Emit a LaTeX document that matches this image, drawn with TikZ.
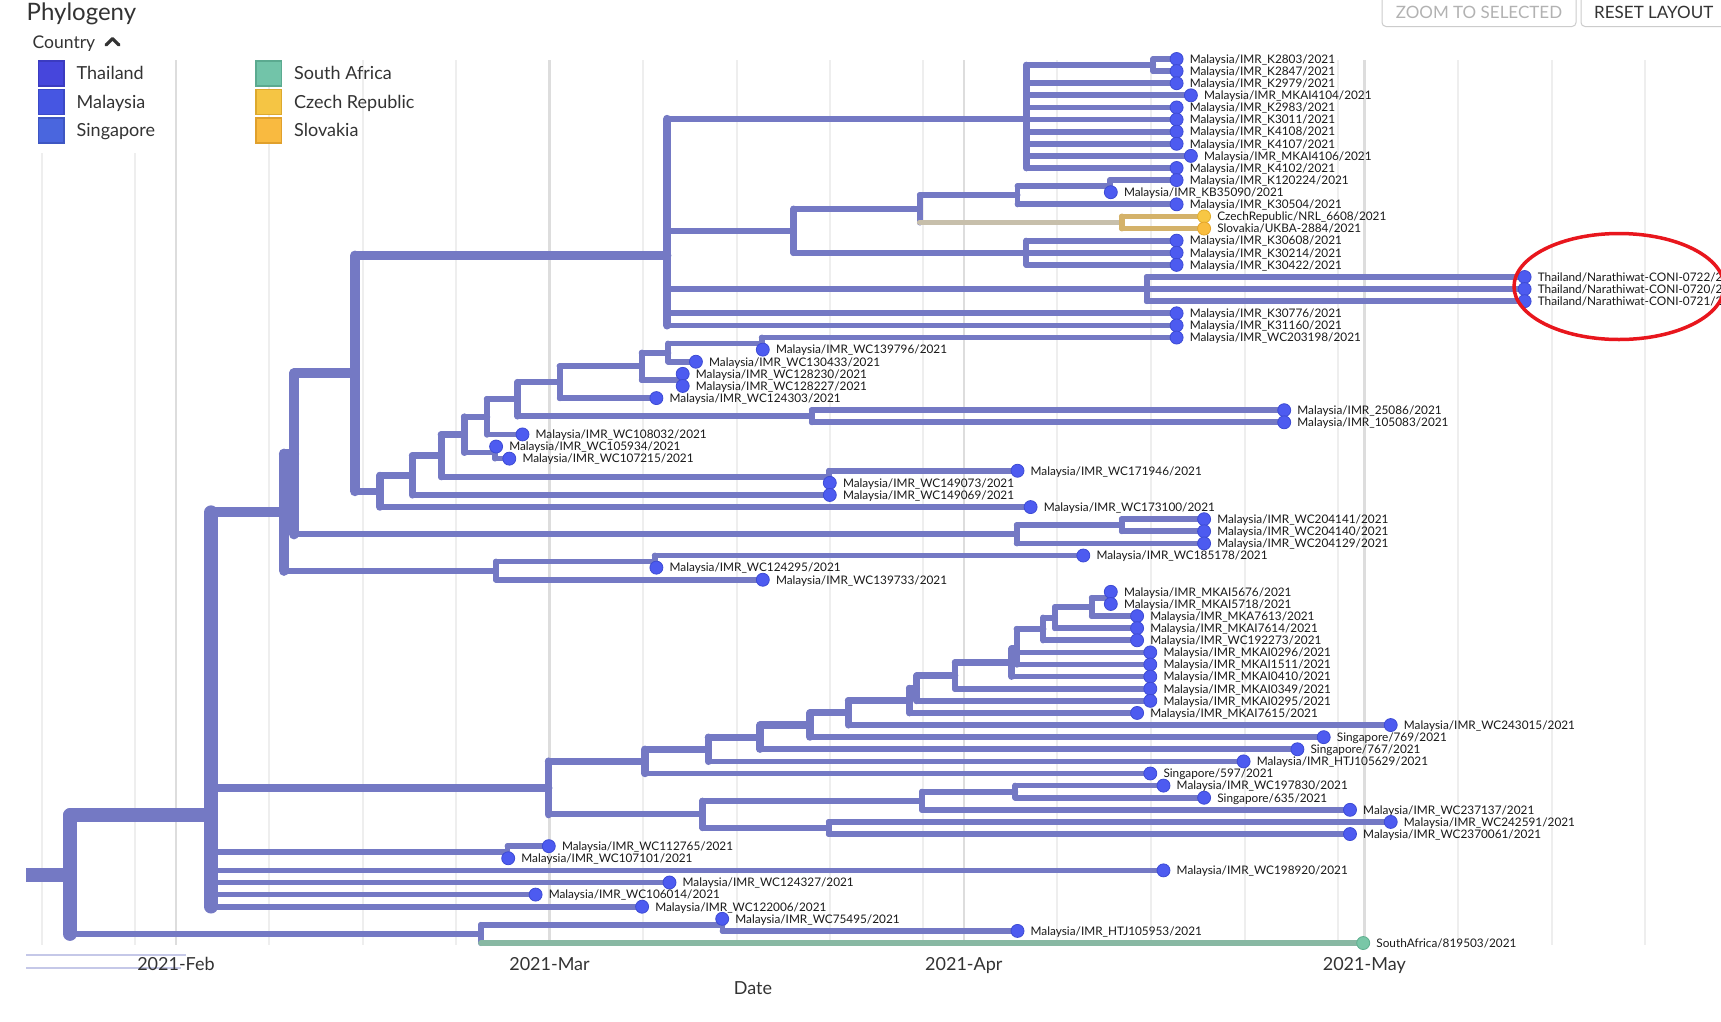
\documentclass[tikz,border=0pt]{standalone}
\usepackage{fontspec}
\setmainfont{Lato}

\definecolor{branch}{HTML}{7479C4}
\definecolor{tipfill}{HTML}{4D5BF0}
\definecolor{tipline}{HTML}{3D4BD4}
\definecolor{czfill}{HTML}{F7C744}
\definecolor{czline}{HTML}{E2AE2B}
\definecolor{skfill}{HTML}{F9BD3F}
\definecolor{skline}{HTML}{E4A52A}
\definecolor{safill}{HTML}{79C7A7}
\definecolor{saline}{HTML}{5DAE8E}
\definecolor{czbranch}{HTML}{D4B26A}
\definecolor{mixbranch}{HTML}{C7BFAB}
\definecolor{sabranch}{HTML}{88B8A3}
\definecolor{gridminor}{HTML}{EEEEEE}
\definecolor{gridmajor}{HTML}{DDDDDD}
\definecolor{axisline}{HTML}{C5C8E8}
\definecolor{darktext}{HTML}{333333}
\definecolor{circled}{HTML}{E8161D}

\tikzset{
  br/.style={draw=branch, line width={5.6+0.113*#1}, line cap=round},
  br/.default=1,
  tipdot/.style={circle, inner sep=0, minimum size=13, line width=0.8},
  tipb/.style={tipdot, fill=tipfill, draw=tipline},
  tipy/.style={tipdot, fill=czfill, draw=czline},
  tipo/.style={tipdot, fill=skfill, draw=skline},
  tipg/.style={tipdot, fill=safill, draw=saline},
  lab/.style={anchor=base west, inner sep=0, xshift=13, yshift=-4.3, font=\fontsize{11.8}{13}\selectfont, text=black!90},
  axlab/.style={anchor=base, inner sep=0, font=\fontsize{18}{20}\selectfont, text=darktext},
}

% parent #2 to child #3, #1 tips below
\newcommand{\hbr}[3][1]{\draw[br=#1] (#2 |- #3) -- (#3);}
% vertical bar of node #2 from child #3 to child #4
\newcommand{\vbr}[4][1]{\draw[br=#1] (#2 |- #3) -- (#2 |- #4);}

\newcommand{\tiplist}{%
0/1176.6/b/{Malaysia/IMR\_K2803/2021},
1/1176.6/b/{Malaysia/IMR\_K2847/2021},
2/1176.6/b/{Malaysia/IMR\_K2979/2021},
3/1190.9/b/{Malaysia/IMR\_MKAI4104/2021},
4/1176.6/b/{Malaysia/IMR\_K2983/2021},
5/1176.6/b/{Malaysia/IMR\_K3011/2021},
6/1176.6/b/{Malaysia/IMR\_K4108/2021},
7/1176.6/b/{Malaysia/IMR\_K4107/2021},
8/1190.9/b/{Malaysia/IMR\_MKAI4106/2021},
9/1176.6/b/{Malaysia/IMR\_K4102/2021},
10/1176.6/b/{Malaysia/IMR\_K120224/2021},
11/1110.8/b/{Malaysia/IMR\_KB35090/2021},
12/1176.6/b/{Malaysia/IMR\_K30504/2021},
13/1204.1/y/{CzechRepublic/NRL\_6608/2021},
14/1204.1/o/{Slovakia/UKBA-2884/2021},
15/1176.6/b/{Malaysia/IMR\_K30608/2021},
16/1176.6/b/{Malaysia/IMR\_K30214/2021},
17/1176.6/b/{Malaysia/IMR\_K30422/2021},
18/1524.6/b/{Thailand/Narathiwat-CONI-0722/2021},
19/1524.6/b/{Thailand/Narathiwat-CONI-0720/2021},
20/1524.6/b/{Thailand/Narathiwat-CONI-0721/2021},
21/1176.6/b/{Malaysia/IMR\_K30776/2021},
22/1176.6/b/{Malaysia/IMR\_K31160/2021},
23/1176.6/b/{Malaysia/IMR\_WC203198/2021},
24/762.8/b/{Malaysia/IMR\_WC139796/2021},
25/695.9/b/{Malaysia/IMR\_WC130433/2021},
26/682.7/b/{Malaysia/IMR\_WC128230/2021},
27/682.7/b/{Malaysia/IMR\_WC128227/2021},
28/656.4/b/{Malaysia/IMR\_WC124303/2021},
29/1284.2/b/{Malaysia/IMR\_25086/2021},
30/1284.2/b/{Malaysia/IMR\_105083/2021},
31/522.5/b/{Malaysia/IMR\_WC108032/2021},
32/496.1/b/{Malaysia/IMR\_WC105934/2021},
33/509.3/b/{Malaysia/IMR\_WC107215/2021},
34/1017.5/b/{Malaysia/IMR\_WC171946/2021},
35/829.8/b/{Malaysia/IMR\_WC149073/2021},
36/829.8/b/{Malaysia/IMR\_WC149069/2021},
37/1030.6/b/{Malaysia/IMR\_WC173100/2021},
38/1204.1/b/{Malaysia/IMR\_WC204141/2021},
39/1204.1/b/{Malaysia/IMR\_WC204140/2021},
40/1204.1/b/{Malaysia/IMR\_WC204129/2021},
41/1083.3/b/{Malaysia/IMR\_WC185178/2021},
42/656.4/b/{Malaysia/IMR\_WC124295/2021},
43/762.8/b/{Malaysia/IMR\_WC139733/2021},
44/1110.8/b/{Malaysia/IMR\_MKAI5676/2021},
45/1110.8/b/{Malaysia/IMR\_MKAI5718/2021},
46/1137.1/b/{Malaysia/IMR\_MKA7613/2021},
47/1137.1/b/{Malaysia/IMR\_MKAI7614/2021},
48/1137.1/b/{Malaysia/IMR\_WC192273/2021},
49/1150.3/b/{Malaysia/IMR\_MKAI0296/2021},
50/1150.3/b/{Malaysia/IMR\_MKAI1511/2021},
51/1150.3/b/{Malaysia/IMR\_MKAI0410/2021},
52/1150.3/b/{Malaysia/IMR\_MKAI0349/2021},
53/1150.3/b/{Malaysia/IMR\_MKAI0295/2021},
54/1137.1/b/{Malaysia/IMR\_MKAI7615/2021},
55/1390.7/b/{Malaysia/IMR\_WC243015/2021},
56/1323.7/b/{Singapore/769/2021},
57/1297.4/b/{Singapore/767/2021},
58/1243.6/b/{Malaysia/IMR\_HTJ105629/2021},
59/1150.3/b/{Singapore/597/2021},
60/1163.5/b/{Malaysia/IMR\_WC197830/2021},
61/1204.1/b/{Singapore/635/2021},
62/1350/b/{Malaysia/IMR\_WC237137/2021},
63/1390.7/b/{Malaysia/IMR\_WC242591/2021},
64/1350/b/{Malaysia/IMR\_WC2370061/2021},
65/548.8/b/{Malaysia/IMR\_WC112765/2021},
66/508.2/b/{Malaysia/IMR\_WC107101/2021},
67/1163.5/b/{Malaysia/IMR\_WC198920/2021},
68/669.5/b/{Malaysia/IMR\_WC124327/2021},
69/535.6/b/{Malaysia/IMR\_WC106014/2021},
70/642.1/b/{Malaysia/IMR\_WC122006/2021},
71/722.2/b/{Malaysia/IMR\_WC75495/2021},
72/1017.5/b/{Malaysia/IMR\_HTJ105953/2021},
73/1363.2/g/{SouthAfrica/819503/2021}}

\begin{document}
\begin{tikzpicture}[x=1pt, y=-1pt]
	\useasboundingbox (0,0) rectangle (1721,1021);
	\clip (0,0) rectangle (1721,1021);
	\fill[white] (0,0) rectangle (1721,1021);

	% weekly and monthly grid
	\foreach \gx in {269,363,456,643,737,830,923,1057,1151,1244.7,1338,1458,1552,1645}
		\draw[gridminor, line width=1.6] (\gx,60) -- (\gx,945);
	\foreach \gx in {41.7,135}
		\draw[gridminor, line width=1.6] (\gx,153) -- (\gx,945);
	\foreach \gx in {176,549.5,963.8,1364.3}
		\draw[gridmajor, line width=2.6] (\gx,60) -- (\gx,945);

	% tips
	\foreach \i/\x/\col/\name in \tiplist
		\coordinate (t\i) at (\x, {59+12.11*\i});

	% internal nodes
	\coordinate (stub) at (26, 874.55);
	\coordinate (root) at (70, 874.55);
	\coordinate (A) at (211, 815.2);
	\coordinate (B) at (284, 512.2);
	\coordinate (B2) at (294, 453.85);
	\coordinate (E) at (355, 373.4);
	\coordinate (F) at (667.3, 255.5);
	\coordinate (X) at (1026.3, 118.9);
	\coordinate (X2) at (1153.3, 65.05);
	\coordinate (Y) at (793.6, 230.8);
	\coordinate (Ya) at (919.8, 208.8);
	\coordinate (Yc) at (1017.5, 195.2);
	\coordinate (Yd) at (1110, 186.15);
	\coordinate (Cz) at (1121.8, 222.45);
	\coordinate (Yb) at (1026.3, 252.8);
	\coordinate (Z) at (1146.7, 289.1);
	\coordinate (G) at (379.9, 491.25);
	\coordinate (H) at (412.4, 475.4);
	\coordinate (I) at (441.1, 455.75);
	\coordinate (M) at (464.1, 434.7);
	\coordinate (N) at (487, 416.8);
	\coordinate (P) at (517.6, 399.2);
	\coordinate (Q) at (559.7, 382.2);
	\coordinate (R) at (641.7, 366.3);
	\coordinate (S) at (668.3, 352.7);
	\coordinate (U) at (761.7, 343.55);
	\coordinate (T) at (681.7, 379.95);
	\coordinate (V) at (811.7, 416.25);
	\coordinate (W) at (495, 452.55);
	\coordinate (J) at (829, 476.8);
	\coordinate (Wa) at (1016.7, 534.3);
	\coordinate (Wb) at (1121.7, 525.25);
	\coordinate (L) at (496, 570.6);
	\coordinate (K) at (654.7, 561.55);
	\coordinate (C) at (548.5, 787.9);
	\coordinate (C1) at (645, 761.4);
	\coordinate (l) at (708.3, 749.3);
	\coordinate (k) at (760, 737.15);
	\coordinate (j) at (810, 725.0);
	\coordinate (i) at (848.3, 712.85);
	\coordinate (h) at (909.3, 700.6);
	\coordinate (g) at (916.7, 688.2);
	\coordinate (f) at (955, 675.65);
	\coordinate (e2) at (1011.7, 662.6);
	\coordinate (e1) at (1016.7, 648.6);
	\coordinate (d4) at (1043.3, 629.0);
	\coordinate (d3) at (1055, 617.65);
	\coordinate (d2) at (1091.7, 607.1);
	\coordinate (d1) at (1108, 597.9);
	\coordinate (C2) at (702.5, 814.35);
	\coordinate (C4) at (922, 800.7);
	\coordinate (C5) at (1015.3, 791.65);
	\coordinate (C6) at (828.7, 828);
	\coordinate (A1) at (507.5, 852.25);
	\coordinate (SA) at (481, 933.9);
	\coordinate (Sb) at (722.5, 924.85);

	% branches
	\draw[br=74, line cap=butt] (stub) -- (root);
	\vbr[74]{root}{A}{SA} \hbr[71]{root}{A} \hbr[3]{root}{SA}
	\vbr[71]{A}{B}{t70} \hbr[44]{A}{B} \hbr[21]{A}{C} \hbr[2]{A}{A1}
	\foreach \c in {t67,t68,t69,t70} {\hbr{A}{\c}}
	\vbr[44]{B}{B2}{L} \hbr[41]{B}{B2} \hbr[3]{B}{L}
	\vbr[41]{B2}{E}{Wa} \hbr[38]{B2}{E} \hbr[3]{B2}{Wa}
	\vbr[38]{E}{F}{G} \hbr[23]{E}{F} \hbr[15]{E}{G}
	\vbr[23]{F}{X}{t22} \hbr[10]{F}{X} \hbr[8]{F}{Y} \hbr[3]{F}{Z} \hbr{F}{t21} \hbr{F}{t22}
	\vbr[10]{X}{X2}{t9} \hbr[2]{X}{X2}
	\foreach \c in {t2,t3,t4,t5,t6,t7,t8,t9} {\hbr{X}{\c}}
	\vbr[2]{X2}{t0}{t1} \hbr{X2}{t0} \hbr{X2}{t1}
	\vbr[8]{Y}{Ya}{Yb} \hbr[5]{Y}{Ya} \hbr[3]{Y}{Yb}
	\vbr[5]{Ya}{Yc}{Cz} \hbr[3]{Ya}{Yc}
	\draw[br=2, draw=mixbranch] (Ya |- Cz) -- (Cz);
	\draw[br=2, draw=czbranch] (Cz |- t13) -- (Cz |- t14);
	\draw[br, draw=czbranch] (Cz |- t13) -- (t13);
	\draw[br, draw=czbranch] (Cz |- t14) -- (t14);
	\vbr[3]{Yc}{Yd}{t12} \hbr[2]{Yc}{Yd} \hbr{Yc}{t12}
	\vbr[2]{Yd}{t10}{t11} \hbr{Yd}{t10} \hbr{Yd}{t11}
	\vbr[3]{Yb}{t15}{t17}
	\foreach \c in {t15,t16,t17} {\hbr{Yb}{\c}}
	\vbr[3]{Z}{t18}{t20}
	\foreach \c in {t18,t19,t20} {\hbr{Z}{\c}}
	\vbr[15]{G}{H}{t37} \hbr[14]{G}{H} \hbr{G}{t37}
	\vbr[14]{H}{I}{t36} \hbr[13]{H}{I} \hbr{H}{t36}
	\vbr[13]{I}{M}{J} \hbr[11]{I}{M} \hbr[2]{I}{J}
	\vbr[11]{M}{N}{W} \hbr[9]{M}{N} \hbr[2]{M}{W}
	\vbr[9]{N}{P}{t31} \hbr[8]{N}{P} \hbr{N}{t31}
	\vbr[8]{P}{Q}{V} \hbr[6]{P}{Q} \hbr[2]{P}{V}
	\vbr[6]{Q}{R}{t28} \hbr[5]{Q}{R} \hbr{Q}{t28}
	\vbr[5]{R}{S}{T} \hbr[3]{R}{S} \hbr[2]{R}{T}
	\vbr[3]{S}{U}{t25} \hbr[2]{S}{U} \hbr{S}{t25}
	\vbr[2]{U}{t23}{t24} \hbr{U}{t23} \hbr{U}{t24}
	\vbr[2]{T}{t26}{t27} \hbr{T}{t26} \hbr{T}{t27}
	\vbr[2]{V}{t29}{t30} \hbr{V}{t29} \hbr{V}{t30}
	\vbr[2]{W}{t32}{t33} \hbr{W}{t32} \hbr{W}{t33}
	\vbr[2]{J}{t34}{t35} \hbr{J}{t34} \hbr{J}{t35}
	\vbr[3]{Wa}{Wb}{t40} \hbr[2]{Wa}{Wb} \hbr{Wa}{t40}
	\vbr[2]{Wb}{t38}{t39} \hbr{Wb}{t38} \hbr{Wb}{t39}
	\vbr[3]{L}{K}{t43} \hbr[2]{L}{K} \hbr{L}{t43}
	\vbr[2]{K}{t41}{t42} \hbr{K}{t41} \hbr{K}{t42}
	\vbr[21]{C}{C1}{C2} \hbr[16]{C}{C1} \hbr[5]{C}{C2}
	\vbr[16]{C1}{l}{t59} \hbr[15]{C1}{l} \hbr{C1}{t59}
	\vbr[15]{l}{k}{t58} \hbr[14]{l}{k} \hbr{l}{t58}
	\vbr[14]{k}{j}{t57} \hbr[13]{k}{j} \hbr{k}{t57}
	\vbr[13]{j}{i}{t56} \hbr[12]{j}{i} \hbr{j}{t56}
	\vbr[12]{i}{h}{t55} \hbr[11]{i}{h} \hbr{i}{t55}
	\vbr[11]{h}{g}{t54} \hbr[10]{h}{g} \hbr{h}{t54}
	\vbr[10]{g}{f}{t53} \hbr[9]{g}{f} \hbr{g}{t53}
	\vbr[9]{f}{e2}{t52} \hbr[8]{f}{e2} \hbr{f}{t52}
	\vbr[8]{e2}{e1}{t51} \hbr[7]{e2}{e1} \hbr{e2}{t51}
	\vbr[7]{e1}{d4}{t50} \hbr[5]{e1}{d4} \hbr{e1}{t49} \hbr{e1}{t50}
	\vbr[5]{d4}{d3}{t48} \hbr[4]{d4}{d3} \hbr{d4}{t48}
	\vbr[4]{d3}{d2}{t47} \hbr[3]{d3}{d2} \hbr{d3}{t47}
	\vbr[3]{d2}{d1}{t46} \hbr[2]{d2}{d1} \hbr{d2}{t46}
	\vbr[2]{d1}{t44}{t45} \hbr{d1}{t44} \hbr{d1}{t45}
	\vbr[5]{C2}{C4}{C6} \hbr[3]{C2}{C4} \hbr[2]{C2}{C6}
	\vbr[3]{C4}{C5}{t62} \hbr[2]{C4}{C5} \hbr{C4}{t62}
	\vbr[2]{C5}{t60}{t61} \hbr{C5}{t60} \hbr{C5}{t61}
	\vbr[2]{C6}{t63}{t64} \hbr{C6}{t63} \hbr{C6}{t64}
	\vbr[2]{A1}{t65}{t66} \hbr{A1}{t65} \hbr{A1}{t66}
	\vbr[3]{SA}{Sb}{t73} \hbr[2]{SA}{Sb}
	\draw[br, draw=sabranch] (SA |- t73) -- (t73);
	\vbr[2]{Sb}{t71}{t72} \hbr{Sb}{t71} \hbr{Sb}{t72}

	% tip dots and names
	\foreach \i/\x/\col/\name in \tiplist {
		\node[tip\col] (dot\i) at (t\i) {};
		\node[lab] (lab\i) at (t\i) {\name};
	}

	% header and legend
	\node[anchor=base west, inner sep=0, font=\fontsize{24}{28}\selectfont, text=darktext] (title) at (26.5,20) {Phylogeny};
	\node[anchor=base west, inner sep=0, font=\fontsize{17.5}{20}\selectfont, text=darktext] (country) at (32.5,48.3) {Country};
	\draw[darktext, line width=3.2, line cap=round, line join=round] (106,45) -- (112.5,38.6) -- (119,45);
	\foreach \xx/\yy/\fc/\lc/\txt [count=\k] in {38.5/61/4646DC/3B3BC0/Thailand, 38.5/89.5/4656E2/3B49C6/Malaysia, 38.5/118/4A66DE/3E56C2/Singapore, 256/61/72C4A9/5BAA90/South Africa, 256/89.5/F5C544/DCA92E/Czech Republic, 256/118/F9BA40/E0A02C/Slovakia} {
		\definecolor{swf}{HTML}{\fc}
		\definecolor{swl}{HTML}{\lc}
		\draw[swl, fill=swf, line width=1.6] (\xx,\yy) rectangle ++(25.5,25);
		\node[anchor=base west, inner sep=0, font=\fontsize{18}{20}\selectfont, text=darktext] (leg\k) at (\xx+38,\yy+18.5) {\txt};
	}

	% buttons
	\draw[black!20, line width=1, rounded corners=4] (1382,-10) rectangle (1576,26.5);
	\node[anchor=base, inner sep=0, font=\fontsize{17}{20}\selectfont, text=black!30] (zoomsel) at (1479,18.7) {ZOOM TO SELECTED};
	\draw[black!20, line width=1, rounded corners=4] (1581,-10) rectangle (1740,26.5);
	\node[anchor=base west, inner sep=0, font=\fontsize{17}{20}\selectfont, text=darktext] (reset) at (1594,18.7) {RESET LAYOUT};

	% axis
	\draw[axisline, line width=1.5] (26,955) -- (186,955);
	\draw[axisline, line width=1.5] (26,968) -- (181,968);
	\foreach \xx/\mon in {176/Feb, 549.5/Mar, 963.8/Apr, 1364.3/May}
		\node[axlab] (ax\mon) at (\xx,970) {2021-\mon};
	\node[axlab] (date) at (753,994) {Date};

	% highlight
	\draw[circled, line width=3.5] (1619,286.5) ellipse [x radius=105, y radius=53];
\end{tikzpicture}
\end{document}
